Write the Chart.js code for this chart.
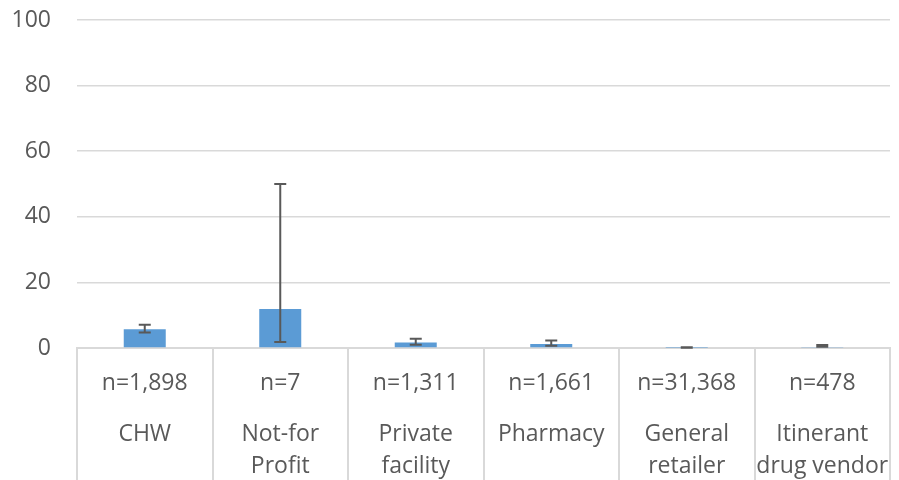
<!DOCTYPE html>
<html>
<head>
<meta charset="utf-8">
<style>
  html, body { margin: 0; padding: 0; background: #ffffff; }
  #wrap { width: 899px; height: 480px; }
</style>
<script src="https://cdn.jsdelivr.net/npm/chart.js@4/dist/chart.umd.min.js"></script>
</head>
<body>
<div id="wrap"><canvas id="chart" width="899" height="480"></canvas></div>
<script>
// Provider types and sample sizes
const categories = ['CHW', 'Not-for Profit', 'Private facility', 'Pharmacy', 'General retailer', 'Itinerant drug vendor'];
const nameLines = [['CHW'], ['Not-for', 'Profit'], ['Private', 'facility'], ['Pharmacy'], ['General', 'retailer'], ['Itinerant', 'drug vendor']];
const sampleSizes = ['n=1,898', 'n=7', 'n=1,311', 'n=1,661', 'n=31,368', 'n=478'];

// Percentages with lower / upper confidence bounds
const values = [5.7, 11.9, 1.7, 1.2, 0.1, 0.3];
const lowerCI = [4.7, 1.8, 1.0, 0.7, 0.05, 0.4];
const upperCI = [7.1, 50.0, 2.8, 2.3, 0.25, 0.95];

const yTicks = [0, 20, 40, 60, 80, 100];

const textColor = '#595959';
const gridColor = '#d9d9d9';
const fontFamily = '"Open Sans", sans-serif';
const fontSize = 23;

// Error bars drawn from the CI arrays through the chart scales
const errorBars = {
  id: 'errorBars',
  afterDatasetsDraw(chart) {
    const { ctx } = chart;
    const x = chart.scales.x, y = chart.scales.y;
    ctx.save();
    ctx.strokeStyle = '#595959';
    ctx.lineWidth = 2;
    categories.forEach((c, i) => {
      const px = x.getPixelForValue(i);
      const yl = y.getPixelForValue(lowerCI[i]);
      const yh = y.getPixelForValue(upperCI[i]);
      ctx.beginPath();
      ctx.moveTo(px, yl); ctx.lineTo(px, yh);
      ctx.moveTo(px - 6, yl); ctx.lineTo(px + 6, yl);
      ctx.moveTo(px - 6, yh); ctx.lineTo(px + 6, yh);
      ctx.stroke();
    });
    ctx.restore();
  }
};

// Two-tier category labels under the axis
const categoryLabels = {
  id: 'categoryLabels',
  afterDraw(chart) {
    const { ctx } = chart;
    const x = chart.scales.x;
    const base = chart.chartArea.bottom;
    ctx.save();
    ctx.fillStyle = textColor;
    ctx.font = fontSize + 'px ' + fontFamily;
    ctx.textAlign = 'center';
    ctx.textBaseline = 'middle';
    categories.forEach((c, i) => {
      const px = x.getPixelForValue(i);
      ctx.fillText(sampleSizes[i], px, base + 35);
      nameLines[i].forEach((line, j) => {
        ctx.fillText(line, px, base + 86 + j * 32);
      });
    });
    ctx.restore();
  }
};

new Chart(document.getElementById('chart'), {
  type: 'bar',
  data: {
    labels: categories,
    datasets: [{
      data: values,
      backgroundColor: '#5b9bd5',
      borderWidth: 0,
      categoryPercentage: 1,
      barPercentage: 0.31
    }]
  },
  options: {
    responsive: false,
    animation: false,
    layout: { padding: { top: 20, right: 9, left: 0, bottom: 0 } },
    plugins: { legend: { display: false }, tooltip: { enabled: false } },
    scales: {
      x: {
        offset: true,
        grid: {
          display: true,
          offset: true,
          drawOnChartArea: false,
          drawTicks: true,
          tickLength: 132,
          color: gridColor,
          lineWidth: 2
        },
        border: { display: true, color: gridColor, width: 2 },
        ticks: { display: false },
        afterFit(scale) { scale.height = 132; }
      },
      y: {
        min: 0,
        max: 100,
        afterBuildTicks(scale) { scale.ticks = yTicks.map(v => ({ value: v })); },
        grid: { color: gridColor, lineWidth: 1.5, drawTicks: false },
        border: { display: false },
        ticks: {
          color: textColor,
          font: { family: fontFamily, size: fontSize },
          padding: 26
        },
        afterFit(scale) {
          scale.width = 77;
          scale.paddingTop = 0;
          scale.paddingBottom = 0;
        }
      }
    }
  },
  plugins: [errorBars, categoryLabels]
});
</script>
</body>
</html>
